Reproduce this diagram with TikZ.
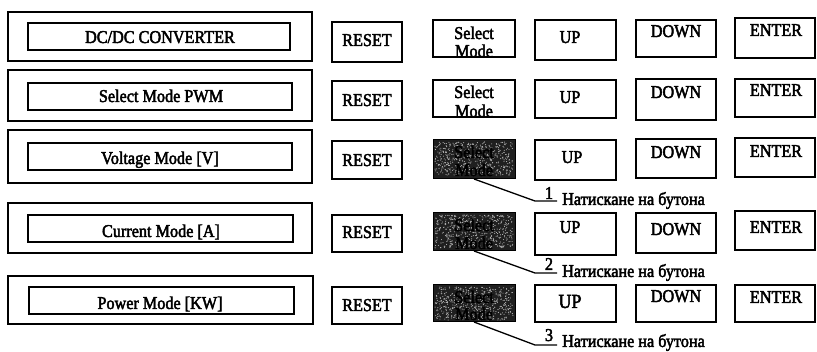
\documentclass[tikz,border=0pt]{standalone}
\usepackage{fontspec}
\setmainfont{Liberation Serif}
\newfontfamily\scanfont{Liberation Serif}[FakeStretch=0.9, FakeBold=2.5]
\usetikzlibrary{calc}
\newcommand\panelbox[6]{\node[#6, minimum width={(#4)-(#2)}, minimum height={(#5)-(#3)}] (#1) at ({((#2)+(#4))/2},{((#3)+(#5))/2}) {};}
\begin{document}
\begin{tikzpicture}[x=1pt,y=-1pt,
  frame/.style={draw=black, line width=1.6pt, inner sep=0pt, outer sep=0pt, fill=white},
  pressed/.style={draw=black, line width=1pt, fill=black!88, inner sep=0pt, outer sep=0pt},
  lbl/.style={inner sep=0pt, anchor=base, font=\scanfont\fontsize{18}{18}\selectfont},
  ghost/.style={lbl, text=black},
  note/.style={inner sep=0pt, anchor=base west, font=\scanfont\fontsize{18}{18}\selectfont},
  lead/.style={line width=1.3pt}]
\useasboundingbox (0,0) rectangle (817,352);
\fill[white] (0,0) rectangle (817,352);

% ---- row 1
\panelbox{O1}{8}{12}{312}{61}{frame}
\panelbox{I1}{28}{23}{290}{50}{frame}
\panelbox{R1}{332}{22}{402}{62}{frame}
\panelbox{S1}{433}{20}{515}{57}{frame}
\panelbox{U1}{535}{20}{616}{60}{frame}
\panelbox{D1}{636}{20}{716}{57}{frame}
\panelbox{E1}{735}{18}{815}{58}{frame}
% ---- row 2
\panelbox{O2}{8}{70}{312}{121}{frame}
\panelbox{I2}{28}{83}{292}{110}{frame}
\panelbox{R2}{332}{81}{402}{120}{frame}
\panelbox{S2}{433}{80}{515}{117}{frame}
\panelbox{U2}{535}{80}{616}{118}{frame}
\panelbox{D2}{636}{79}{716}{120}{frame}
\panelbox{E2}{735}{79}{815}{117}{frame}
% ---- row 3
\panelbox{O3}{8}{130}{312}{183}{frame}
\panelbox{I3}{28}{143}{292}{170}{frame}
\panelbox{R3}{332}{141}{402}{179}{frame}
\panelbox{S3}{433}{140}{515}{179}{pressed}
\panelbox{U3}{535}{140}{616}{180}{frame}
\panelbox{D3}{636}{139}{716}{178}{frame}
\panelbox{E3}{735}{138}{815}{177}{frame}
% ---- row 4
\panelbox{O4}{8}{203}{312}{253}{frame}
\panelbox{I4}{28}{215}{293}{242}{frame}
\panelbox{R4}{332}{215}{402}{252}{frame}
\panelbox{S4}{433}{213}{515}{251}{pressed}
\panelbox{U4}{535}{213}{616}{255}{frame}
\panelbox{D4}{636}{213}{716}{253}{frame}
\panelbox{E4}{735}{211}{815}{250}{frame}
% ---- row 5
\panelbox{O5}{8}{276}{313}{324}{frame}
\panelbox{I5}{29}{287}{294}{314}{frame}
\panelbox{R5}{332}{287}{402}{324}{frame}
\panelbox{S5}{433}{285}{515}{322}{pressed}
\panelbox{U5}{535}{285}{616}{322}{frame}
\panelbox{D5}{636}{285}{716}{322}{frame}
\panelbox{E5}{735}{285}{815}{322}{frame}

% speckle on pressed buttons
\pgfmathsetseed{7}
\foreach \b in {S3,S4,S5}{
  \foreach \i in {1,...,520}{
    \fill[black!28] ($(\b.north west)+({2+78*rnd},{2+33*rnd})$) circle (0.55);
  }
}

% ---- texts in inner panels
\node[lbl] (T1) at (160,43) {DC/DC CONVERTER};
\node[lbl] (T2) at (161,102) {Select Mode PWM};
\node[lbl] (T3) at (160,164) {Voltage Mode [V]};
\node[lbl] (T4) at (161,237) {Current Mode [A]};
\node[lbl] (T5) at (160,309) {Power Mode [KW]};
% ---- RESET
\node[lbl] (RT1) at (367,46) {RESET};
\node[lbl] (RT2) at (367,106) {RESET};
\node[lbl] (RT3) at (367,166) {RESET};
\node[lbl] (RT4) at (367,238) {RESET};
\node[lbl] (RT5) at (367,311) {RESET};
% ---- Select Mode
\node[lbl] (SA1) at (474,39) {Select};
\node[lbl] (SB1) at (474,57) {Mode};
\node[lbl] (SA2) at (474,98) {Select};
\node[lbl] (SB2) at (474,117) {Mode};
\node[ghost] (SA3) at (474,158) {Select};
\node[ghost] (SB3) at (474,176) {Mode};
\node[ghost] (SA4) at (474,231) {Select};
\node[ghost] (SB4) at (474,249) {Mode};
\node[ghost] (SA5) at (474,303) {Select};
\node[ghost] (SB5) at (474,320) {Mode};
% ---- UP
\node[lbl] (UT1) at (570,43) {UP};
\node[lbl] (UT2) at (570,103) {UP};
\node[lbl] (UT3) at (572,163) {UP};
\node[lbl] (UT4) at (570,233) {UP};
\node[lbl, font=\scanfont\fontsize{20}{20}\selectfont] (UT5) at (570,308) {UP};
% ---- DOWN
\node[lbl] (DT1) at (676,37) {DOWN};
\node[lbl] (DT2) at (676,98) {DOWN};
\node[lbl] (DT3) at (676,158) {DOWN};
\node[lbl] (DT4) at (676,235) {DOWN};
\node[lbl] (DT5) at (676,302) {DOWN};
% ---- ENTER
\node[lbl] (ET1) at (776,36) {ENTER};
\node[lbl] (ET2) at (776,96) {ENTER};
\node[lbl] (ET3) at (776,157) {ENTER};
\node[lbl] (ET4) at (776,233) {ENTER};
\node[lbl] (ET5) at (776,303) {ENTER};

% ---- leaders and notes
\coordinate (K1) at (535,201);
\coordinate (L1) at (557,201);
\coordinate (K2) at (535,273);
\coordinate (L2) at (557,273);
\coordinate (K3) at (535,345);
\coordinate (L3) at (557,345);
\draw[lead] (S3.south) -- (K1) -- (L1);
\draw[lead] (S4.south) -- (K2) -- (L2);
\draw[lead] (S5.south) -- (K3) -- (L3);
\node[lbl] (N1) at (549,199) {1};
\node[lbl] (N2) at (549,270) {2};
\node[lbl] (N3) at (549,341) {3};
\node[note] (M1) at (562,205) {Натискане на бутона};
\node[note] (M2) at (562,277) {Натискане на бутона};
\node[note] (M3) at (562,347) {Натискане на бутона};
\end{tikzpicture}
\end{document}
